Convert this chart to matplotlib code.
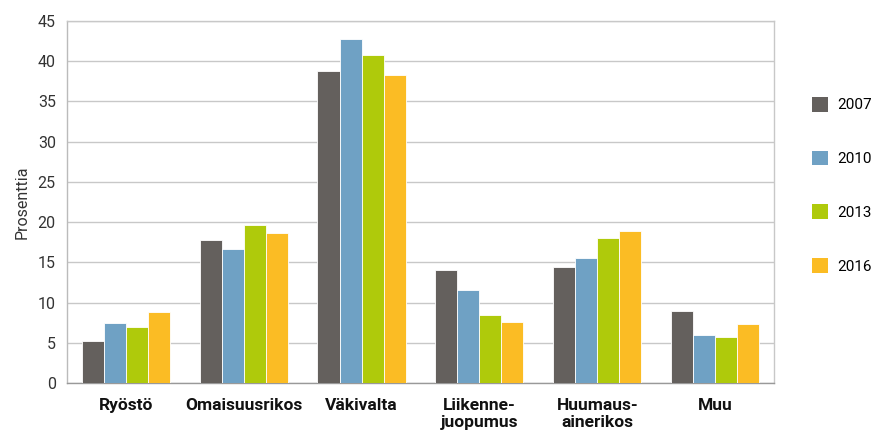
import matplotlib
matplotlib.use("Agg")
import matplotlib.pyplot as plt
import numpy as np
from matplotlib.patches import Patch

categories = ["Ryöstö", "Omaisuusrikos", "Väkivalta", "Liikenne-\njuopumus", "Huumaus-\nainerikos", "Muu"]
years = ["2007", "2010", "2013", "2016"]
v2007 = [5.2, 17.8, 38.8, 14.1, 14.4, 9.0]
v2010 = [7.4, 16.6, 42.8, 11.6, 15.5, 6.0]
v2013 = [6.9, 19.7, 40.8, 8.5, 18.0, 5.7]
v2016 = [8.8, 18.6, 38.3, 7.6, 18.9, 7.3]
series = [v2007, v2010, v2013, v2016]
colors = ["#64605d", "#6fa1c4", "#afca0b", "#fbbc24"]

plt.rcParams['font.family'] = ['Roboto', 'DejaVu Sans']

fig = plt.figure(figsize=(8.72, 4.36), dpi=100)
ax = fig.add_axes([0.0768, 0.1216, 0.8108, 0.8302])

x = np.arange(len(categories))
w = 0.187
for i, (vals, c) in enumerate(zip(series, colors)):
    ax.bar(x + (i - 1.5) * w, vals, width=w, color=c, edgecolor="white", linewidth=0.6, zorder=3)

ax.set_xlim(-0.5, len(categories) - 0.5)
ax.set_ylim(0, 45)
ax.set_yticks(range(0, 46, 5))
ax.yaxis.grid(True, color="#c8c8c8", linewidth=1.0, zorder=0)
ax.set_axisbelow(True)
ax.tick_params(axis="both", length=0)
ax.tick_params(axis="y", labelsize=11.5, colors="#333333", pad=8)
ax.set_xticks(x)
ax.set_xticklabels(categories, fontsize=12.5, fontweight="bold", color="#111111", linespacing=1.15, va="top")
ax.tick_params(axis="x", pad=11)
for s in ["left", "bottom", "right", "top"]:
    ax.spines[s].set_color("#c8c8c8")
    ax.spines[s].set_linewidth(1.0)
ax.spines["bottom"].set_color("#999999")
ax.spines["left"].set_color("#bbbbbb")
ax.set_ylabel("Prosenttia", fontsize=11.5, color="#333333", labelpad=6)

handles = [Patch(facecolor=c, edgecolor="none") for c in colors]
fig.legend(handles, years, loc="center left", bbox_to_anchor=(0.915, 0.575), frameon=False,
           fontsize=11, handlelength=1.1, handleheight=1.1, handletextpad=0.6, labelspacing=2.5)

fig.savefig("out.png", dpi=100)
